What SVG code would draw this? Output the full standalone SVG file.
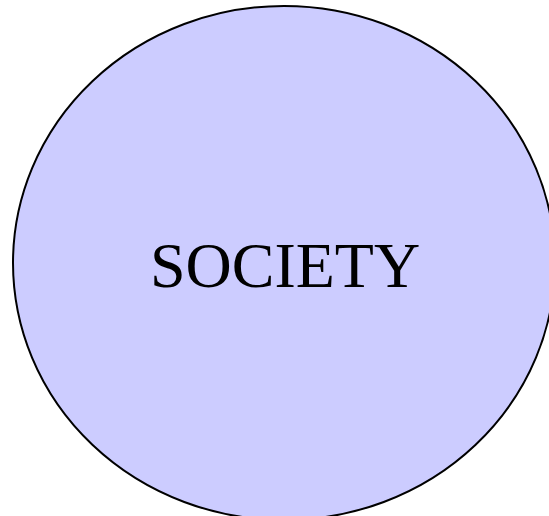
<svg xmlns="http://www.w3.org/2000/svg" width="549" height="516" viewBox="0 0 549 516">
<style>
.node{fill:#ccccff;stroke:#000;stroke-width:2}
.lbl{font-family:"Liberation Serif","Times New Roman",serif;font-size:64px;fill:#000;text-anchor:middle}
</style>
<rect width="549" height="516" fill="#fff"/>
<g id="connectors"></g>
<g id="society">
<ellipse class="node" cx="284" cy="263" rx="271" ry="257"/>
<text class="lbl" x="285" y="287">SOCIETY</text>
</g>
</svg>
